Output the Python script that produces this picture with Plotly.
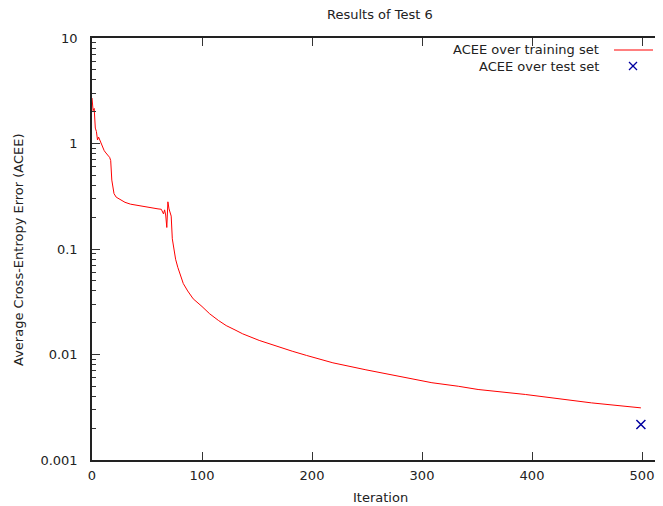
import plotly.graph_objects as go

# ---- data ----
train_iter = [0, 1, 2, 3, 4, 5, 6, 7, 8, 9, 10, 11, 12, 13, 14, 15, 16, 17, 18, 19, 20,
              22, 25, 30, 35, 40, 45, 50, 55, 60, 63, 64, 65, 66, 67, 68, 69, 70, 71, 72,
              73, 74, 75, 76, 78, 80, 83, 87, 92, 100, 107, 115, 122, 130, 137, 152, 167,
              182, 195, 206, 219, 249, 279, 309, 333, 351, 394, 454, 499]
train_acee = [2.7, 2.05, 2.15, 1.4, 1.3, 1.08, 1.15, 1.08, 1.02, 0.96, 0.9, 0.86, 0.83, 0.8,
              0.78, 0.76, 0.74, 0.69, 0.45, 0.37, 0.335, 0.31, 0.295, 0.277, 0.266, 0.26,
              0.254, 0.249, 0.245, 0.24, 0.238, 0.228, 0.215, 0.235, 0.21, 0.16, 0.28, 0.24,
              0.225, 0.205, 0.125, 0.105, 0.095, 0.08, 0.067, 0.058, 0.047, 0.040, 0.0337,
              0.0285, 0.0243, 0.021, 0.0188, 0.0171, 0.0157, 0.0136, 0.012, 0.01075, 0.0098,
              0.0091, 0.00834, 0.00716, 0.00618, 0.0054, 0.005, 0.00466, 0.00418, 0.00348,
              0.00312]
test_iter = [499]
test_acee = [0.00217]

x_ticks = [0, 100, 200, 300, 400, 500]
y_ticks = [0.001, 0.01, 0.1, 1, 10]
y_tick_text = ["0.001", "0.01", "0.1", "1", "10"]
y_minor = [m * 10 ** e for e in range(-3, 1) for m in range(2, 10)]

# page has an 8px body margin; compensate so the picture lands where the reference does
OFF = 8
W, H = 663 - OFF, 506 - OFF
L, R, T, B = 92 - OFF, 0, 38 - OFF, 46
pw, ph = W - L - R, H - T - B


def px(x):
    return (x - OFF - L) / pw


def py(y):
    return (H - B - (y - OFF)) / ph


FONT = "DejaVu Sans"
FS = 13
TXT = "#222222"

fig = go.Figure()
fig.add_trace(go.Scatter(x=train_iter, y=train_acee, mode="lines",
                         line=dict(color="#ff0000", width=1), showlegend=False))
fig.add_trace(go.Scatter(x=test_iter, y=test_acee, mode="markers",
                         marker=dict(symbol="x-thin", size=9, color="#0000a0",
                                     line=dict(color="#0000a0", width=1.5)),
                         showlegend=False))

ann = []
ann.append(dict(text="Results of Test 6", x=px(380), y=py(15), xref="paper", yref="paper",
                showarrow=False, xanchor="center", yanchor="middle",
                font=dict(family=FONT, size=FS, color=TXT)))
ann.append(dict(text="Iteration", x=px(380), y=py(497), xref="paper", yref="paper",
                showarrow=False, xanchor="center", yanchor="middle",
                font=dict(family=FONT, size=FS, color=TXT)))
ann.append(dict(text="Average Cross-Entropy Error (ACEE)", x=px(18), y=py(250),
                xref="paper", yref="paper", showarrow=False, textangle=-90,
                xanchor="center", yanchor="middle",
                font=dict(family=FONT, size=FS, color=TXT)))
ann.append(dict(text="ACEE over training set", x=px(601), y=py(50), xref="paper",
                yref="paper", showarrow=False, xanchor="right", yanchor="middle",
                font=dict(family=FONT, size=FS, color=TXT)))
ann.append(dict(text="ACEE over test set", x=px(601), y=py(66), xref="paper",
                yref="paper", showarrow=False, xanchor="right", yanchor="middle",
                font=dict(family=FONT, size=FS, color=TXT)))

shapes = [
    dict(type="line", xref="paper", yref="paper", x0=px(614), x1=px(653), y0=py(50),
         y1=py(50), line=dict(color="#ff0000", width=1)),
    dict(type="line", xref="paper", yref="paper", x0=px(629), x1=px(637), y0=py(62),
         y1=py(70), line=dict(color="#0000a0", width=1.2)),
    dict(type="line", xref="paper", yref="paper", x0=px(629), x1=px(637), y0=py(70),
         y1=py(62), line=dict(color="#0000a0", width=1.2)),
]

fig.update_layout(
    width=W, height=H,
    margin=dict(l=L, r=R, t=T, b=B),
    paper_bgcolor="white", plot_bgcolor="white",
    annotations=ann, shapes=shapes,
    showlegend=False,
    xaxis=dict(range=[0, pw / 1.1], tickvals=x_ticks, ticks="inside", ticklen=8,
               tickcolor="#333333", tickwidth=1.2, showline=True, linecolor="#222222",
               linewidth=1.5, mirror="allticks", showgrid=False, zeroline=False,
               ticklabelstandoff=3,
               tickfont=dict(family=FONT, size=FS, color=TXT)),
    yaxis=dict(type="log", range=[-3, 1], tickvals=y_ticks, ticktext=y_tick_text,
               ticks="inside", ticklen=8, tickcolor="#333333", tickwidth=1.2,
               showline=True, linecolor="#222222", linewidth=1.5, showgrid=False,
               zeroline=False, ticklabelstandoff=10,
               tickfont=dict(family=FONT, size=FS, color=TXT),
               minor=dict(tickvals=y_minor, ticks="inside", ticklen=4,
                          tickcolor="#333333", tickwidth=1, showgrid=False)),
)

fig.write_html("out.html")
